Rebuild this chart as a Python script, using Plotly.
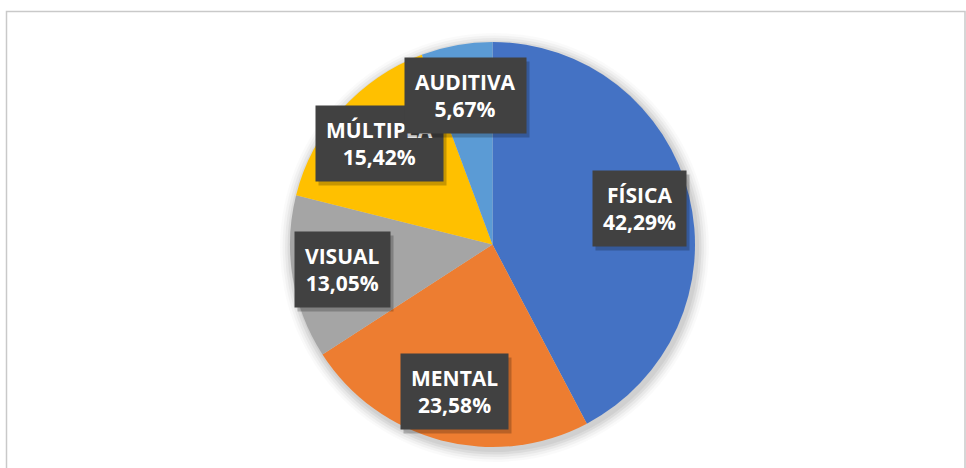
import math
import plotly.graph_objects as go

# data
labels = ['FÍSICA', 'MENTAL', 'VISUAL', 'MÚLTIPLA', 'AUDITIVA']
values = [42.29, 23.58, 13.05, 15.42, 5.67]
colors = ['#4472C4', '#ED7D31', '#A5A5A5', '#FFC000', '#5B9BD5']

W, H = 966, 468
# pie placement (pixels)
cx, cy, r = 492.5, 244.5, 202.5
dom_x = [(cx - r) / W, (cx + r) / W]
dom_y = [1 - (cy + r) / H, 1 - (cy - r) / H]

fig = go.Figure(go.Pie(
	labels=labels, values=values, sort=False,
	direction='clockwise', rotation=0,
	marker=dict(colors=colors, line=dict(width=0)),
	textinfo='none', hoverinfo='label+percent',
	domain=dict(x=dom_x, y=dom_y),
))

#Soft shadow around the pie
shapes = []
for i, a in enumerate([0.05, 0.05, 0.04, 0.03, 0.02]):
	rr = r + 2 + i * 2.5
	ox, oy = 2, 3
	shapes.append(dict(type='circle', xref='paper', yref='paper', layer='below',
		x0=(cx + ox - rr) / W, x1=(cx + ox + rr) / W,
		y0=1 - (cy + oy + rr) / H, y1=1 - (cy + oy - rr) / H,
		fillcolor=f'rgba(0,0,0,{a})', line=dict(width=0)))

#Chart border
shapes.append(dict(type='rect', xref='paper', yref='paper',
	x0=6.5 / W, x1=965 / W, y0=-0.1, y1=1 - 11.5 / H,
	line=dict(color='#C9C9C9', width=1.5)))

#Data labels: dark boxes (with a drop shadow) along each slice's mid angle
annotations = []
total = sum(values)
cum = 0
for lab, v in zip(labels, values):
	mid = (cum + v / 2) / total * 2 * math.pi
	cum += v
	px = cx + 0.75 * r * math.sin(mid)
	py = cy - 0.75 * r * math.cos(mid)
	txt = f'{lab}<br>{v:.2f}%'.replace('.', ',')
	font = dict(family='Open Sans', size=21, color='white', weight='bold')
	common = dict(xref='paper', yref='paper', x=px / W, y=1 - py / H,
		xanchor='center', yanchor='middle', showarrow=False, borderpad=10)
	annotations.append(dict(text=txt, xshift=3, yshift=-4, bgcolor='rgba(0,0,0,0.22)',
		font=dict(font, color='rgba(0,0,0,0)'), **common))
	annotations.append(dict(text=txt, bgcolor='#414141', font=font, **common))

fig.update_layout(
	width=W, height=H,
	margin=dict(l=0, r=0, t=0, b=0),
	paper_bgcolor='white', plot_bgcolor='white',
	showlegend=False,
	shapes=shapes, annotations=annotations,
)
fig.write_html('out.html', config={'displayModeBar': False},
	post_script="document.body.style.margin='0';")
